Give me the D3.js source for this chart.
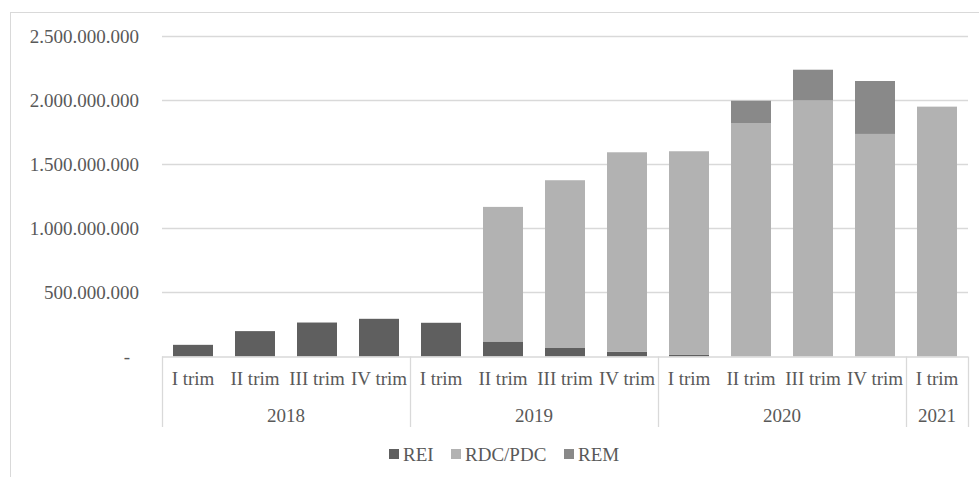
<!DOCTYPE html>
<html>
<head>
<meta charset="utf-8">
<script src="https://cdn.jsdelivr.net/npm/d3@7"></script>
<style>
  html, body { margin: 0; padding: 0; background: #fff; }
  svg { display: block; }
  text { font-family: "Liberation Serif", "Times New Roman", serif; fill: #595959; }
</style>
</head>
<body>
<svg id="chart" width="979" height="477"></svg>
<script>
// Quarterly amounts by scheme
const quarters = ["I trim", "II trim", "III trim", "IV trim",
                  "I trim", "II trim", "III trim", "IV trim",
                  "I trim", "II trim", "III trim", "IV trim",
                  "I trim"];
const years = ["2018", "2018", "2018", "2018",
               "2019", "2019", "2019", "2019",
               "2020", "2020", "2020", "2020",
               "2021"];
const seriesNames = ["REI", "RDC/PDC", "REM"];
const rei = [91000000, 198000000, 265000000, 294000000,
             263000000, 117000000, 70000000, 38000000,
             15000000, 0, 0, 0, 0];
const rdc = [0, 0, 0, 0,
             0, 1050000000, 1305000000, 1555000000,
             1586000000, 1821000000, 1998000000, 1736000000,
             1949000000];
const rem = [0, 0, 0, 0,
             0, 0, 0, 0,
             0, 174000000, 239000000, 413000000,
             0];
const yTicks = [0, 500000000, 1000000000, 1500000000, 2000000000, 2500000000];
const colors = ["#5f5f5f", "#b2b2b2", "#898989"];

const svg = d3.select("#chart");
const gridColor = "#d9d9d9";

// Outer chart frame
svg.append("rect")
  .attr("x", 10.5).attr("y", 12.5)
  .attr("width", 1000).attr("height", 500)
  .attr("fill", "none").attr("stroke", gridColor).attr("stroke-width", 1);

const plotLeft = 162, plotRight = 968, plotTop = 36, plotBottom = 356.5;

const x = d3.scaleBand()
  .domain(d3.range(quarters.length))
  .range([plotLeft, plotRight])
  .paddingInner(0.355)
  .paddingOuter(0.1775);

const y = d3.scaleLinear().domain([0, 2500000000]).range([plotBottom, plotTop]);

const locale = d3.formatLocale({ decimal: ",", thousands: ".", grouping: [3], currency: ["", ""] });
const fmt = locale.format(",.0f");

// Horizontal gridlines
svg.append("g")
  .selectAll("line")
  .data(yTicks.filter(d => d > 0))
  .join("line")
  .attr("x1", plotLeft).attr("x2", plotRight)
  .attr("y1", d => Math.round(y(d)) + 0.5)
  .attr("y2", d => Math.round(y(d)) + 0.5)
  .attr("stroke", gridColor).attr("stroke-width", 1.3);

// Y-axis labels
const yAxis = d3.axisLeft(y)
  .tickValues(yTicks)
  .tickSize(0)
  .tickPadding(23)
  .tickFormat(d => d === 0 ? "-" : fmt(d));
const yg = svg.append("g").attr("transform", `translate(${plotLeft},0)`).call(yAxis);
yg.select(".domain").remove();
yg.selectAll("text")
  .attr("font-size", 19)
  .attr("fill", "#595959")
  .attr("font-family", "Liberation Serif, Times New Roman, serif")
  .attr("dx", d => d === 0 ? -9 : 0);

// Stacked bars
const rows = quarters.map((q, i) => ({ i, REI: rei[i], "RDC/PDC": rdc[i], REM: rem[i] }));
const stacked = d3.stack().keys(seriesNames)(rows);

svg.append("g")
  .selectAll("g")
  .data(stacked)
  .join("g")
  .attr("fill", (d, k) => colors[k])
  .selectAll("rect")
  .data(d => d.filter(s => s[1] - s[0] > 0))
  .join("rect")
  .attr("x", s => x(s.data.i))
  .attr("width", x.bandwidth())
  .attr("y", s => y(s[1]))
  .attr("height", s => y(s[0]) - y(s[1]));

// Category axis line and group separators
svg.append("line")
  .attr("x1", plotLeft).attr("x2", plotRight)
  .attr("y1", plotBottom + 0.5).attr("y2", plotBottom + 0.5)
  .attr("stroke", gridColor).attr("stroke-width", 1.3);

const groups = [];
years.forEach((yr, i) => {
  const g = groups[groups.length - 1];
  if (g && g.year === yr) g.end = i; else groups.push({ year: yr, start: i, end: i });
});
const step = x.step();
const edge = i => plotLeft + i * step;
const seps = [0].concat(groups.map(g => g.end + 1));

svg.append("g")
  .selectAll("line")
  .data(seps)
  .join("line")
  .attr("x1", i => Math.round(edge(i)) + 0.5)
  .attr("x2", i => Math.round(edge(i)) + 0.5)
  .attr("y1", plotBottom).attr("y2", 427)
  .attr("stroke", gridColor).attr("stroke-width", 1.3);

// Quarter labels
svg.append("g")
  .selectAll("text")
  .data(quarters)
  .join("text")
  .attr("x", (d, i) => x(i) + x.bandwidth() / 2)
  .attr("y", 385)
  .attr("text-anchor", "middle")
  .attr("font-size", 19)
  .text(d => d);

// Year labels
svg.append("g")
  .selectAll("text")
  .data(groups)
  .join("text")
  .attr("x", g => (edge(g.start) + edge(g.end + 1)) / 2)
  .attr("y", 421.5)
  .attr("text-anchor", "middle")
  .attr("font-size", 19)
  .text(g => g.year);

// Legend
const legendX = [389, 451, 564];
const lg = svg.append("g")
  .selectAll("g")
  .data(seriesNames)
  .join("g")
  .attr("transform", (d, k) => `translate(${legendX[k]},449)`);
lg.append("rect")
  .attr("width", 10).attr("height", 10)
  .attr("fill", (d, k) => colors[k]);
lg.append("text")
  .attr("x", 14).attr("y", 12)
  .attr("font-size", 19)
  .text(d => d);
</script>
</body>
</html>
